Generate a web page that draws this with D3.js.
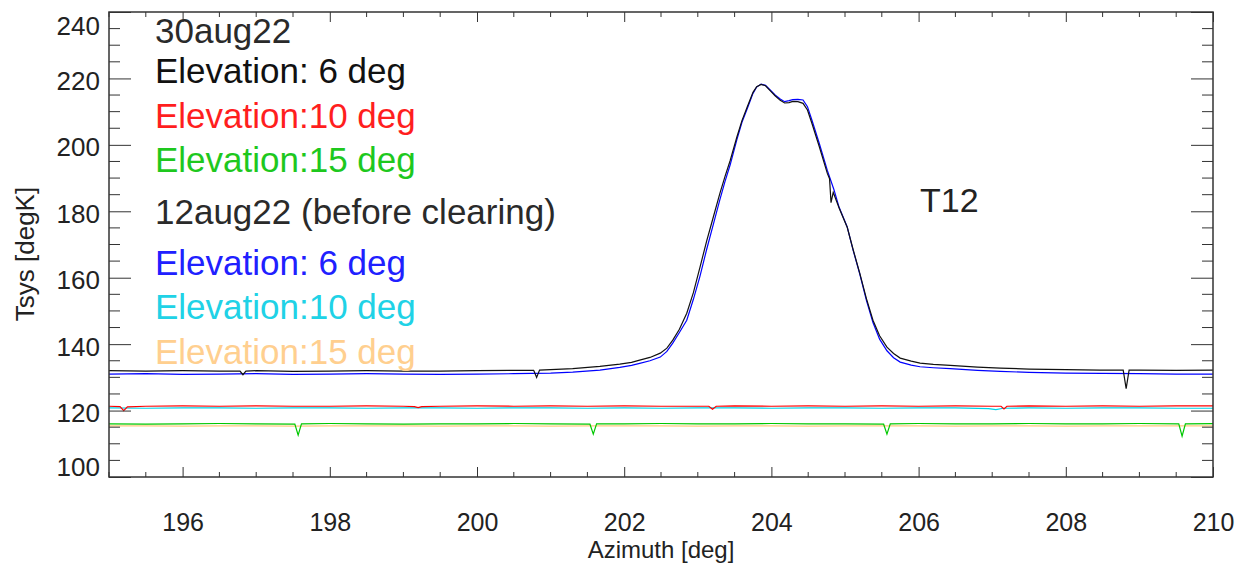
<!DOCTYPE html>
<html>
<head>
<meta charset="utf-8">
<script src="https://cdn.jsdelivr.net/npm/d3@7"></script>
<style>
  body { margin: 0; background: #fff; }
  text { font-family: "Liberation Sans", Arial, sans-serif; }
</style>
</head>
<body>
<div id="chart"></div>
<script>
// 30aug22, elevation 6 deg (black)
const aug30el6Az = [195.0, 195.5, 196.0, 196.5, 196.78, 196.82, 196.86, 197.0, 197.5, 198.0, 198.5, 199.0, 199.5, 200.0, 200.5, 200.77, 200.81, 200.85, 201.0, 201.3, 201.67, 201.94, 202.1, 202.21, 202.35, 202.49, 202.58, 202.66, 202.75, 202.85, 202.94, 203.03, 203.12, 203.21, 203.3, 203.37, 203.44, 203.53, 203.6, 203.67, 203.75, 203.8, 203.86, 203.92, 203.98, 204.05, 204.12, 204.18, 204.24, 204.29, 204.36, 204.43, 204.49, 204.55, 204.65, 204.76, 204.79, 204.81, 204.84, 204.92, 205.03, 205.11, 205.2, 205.29, 205.38, 205.47, 205.57, 205.66, 205.75, 205.9, 206.02, 206.2, 206.43, 206.8, 207.11, 207.5, 208.0, 208.46, 208.78, 208.82, 208.86, 209.0, 209.5, 210.0];
const aug30el6T = [132.0, 131.9, 132.0, 131.9, 131.9, 130.8, 131.9, 132.0, 131.8, 131.9, 132.0, 131.9, 131.9, 132.0, 132.1, 132.1, 130.0, 132.2, 132.3, 132.6, 133.3, 134.0, 134.5, 135.2, 136.0, 137.3, 138.8, 141.2, 144.5, 149.3, 155.5, 163.2, 171.0, 178.2, 185.4, 190.5, 195.3, 202.3, 207.3, 211.3, 215.8, 217.5, 218.2, 217.8, 216.4, 214.8, 213.4, 212.6, 212.7, 213.1, 213.0, 212.5, 210.5, 206.5, 199.5, 191.4, 189.8, 182.6, 185.7, 181.0, 175.2, 168.5, 161.4, 153.8, 147.2, 142.5, 139.1, 137.2, 135.8, 134.9, 134.3, 133.9, 133.6, 133.1, 132.8, 132.5, 132.3, 132.2, 132.2, 126.6, 132.2, 132.2, 132.1, 132.2];

// 30aug22, elevation 10 deg (red)
const aug30el10Az = [195.0, 195.15, 195.2, 195.25, 195.5, 196.0, 196.5, 197.0, 197.5, 198.0, 198.5, 199.0, 199.15, 199.2, 199.25, 199.5, 200.0, 200.5, 201.0, 201.5, 202.0, 202.5, 203.0, 203.15, 203.2, 203.25, 203.5, 204.0, 204.5, 205.0, 205.5, 206.0, 206.5, 207.0, 207.12, 207.16, 207.2, 207.5, 208.0, 208.5, 209.0, 209.5, 210.0];
const aug30el10T = [121.3, 121.2, 120.0, 121.1, 121.3, 121.4, 121.3, 121.4, 121.3, 121.3, 121.4, 121.3, 121.2, 120.9, 121.2, 121.3, 121.4, 121.3, 121.4, 121.3, 121.4, 121.3, 121.3, 121.3, 120.4, 121.3, 121.4, 121.3, 121.4, 121.3, 121.4, 121.3, 121.4, 121.3, 121.3, 120.5, 121.3, 121.4, 121.3, 121.4, 121.3, 121.4, 121.4];

// 30aug22, elevation 15 deg (green)
const aug30el15Az = [195.0, 195.5, 196.0, 196.5, 197.0, 197.525, 197.57, 197.615, 198.0, 198.5, 199.0, 199.5, 200.0, 200.5, 201.0, 201.535, 201.58, 201.625, 202.0, 202.5, 203.0, 203.5, 204.0, 204.5, 205.0, 205.525, 205.57, 205.615, 206.0, 206.5, 207.0, 207.5, 208.0, 208.5, 209.0, 209.535, 209.58, 209.625, 210.0];
const aug30el15T = [116.0, 115.9, 116.0, 116.1, 116.0, 115.9, 112.6, 116.0, 116.1, 116.0, 115.9, 116.0, 116.0, 116.1, 116.0, 115.9, 112.9, 116.0, 116.0, 116.1, 116.0, 116.0, 116.1, 116.0, 116.0, 115.9, 112.9, 116.0, 116.1, 116.0, 116.0, 116.1, 116.0, 116.0, 116.1, 116.0, 112.3, 116.0, 116.1];

// 12aug22, elevation 6 deg (blue)
const aug12el6Az = [195.0, 195.5, 196.0, 196.5, 197.0, 197.5, 198.0, 198.5, 199.0, 199.5, 200.0, 200.5, 201.0, 201.3, 201.67, 201.94, 202.1, 202.21, 202.35, 202.49, 202.58, 202.66, 202.75, 202.85, 202.94, 203.03, 203.12, 203.21, 203.3, 203.37, 203.44, 203.53, 203.6, 203.67, 203.75, 203.8, 203.86, 203.92, 203.98, 204.05, 204.12, 204.18, 204.24, 204.29, 204.36, 204.43, 204.49, 204.55, 204.65, 204.76, 204.85, 204.92, 205.03, 205.11, 205.2, 205.29, 205.38, 205.47, 205.57, 205.66, 205.75, 205.9, 206.02, 206.2, 206.43, 206.8, 207.11, 207.5, 208.0, 208.5, 209.0, 209.5, 210.0];
const aug12el6T = [131.0, 131.1, 130.9, 131.0, 131.1, 130.9, 131.0, 131.1, 131.0, 130.9, 131.0, 131.1, 131.3, 131.6, 132.2, 133.0, 133.6, 134.2, 135.0, 136.1, 137.8, 140.3, 143.5, 147.2, 153.5, 160.5, 168.5, 176.0, 183.5, 189.0, 194.0, 201.5, 206.8, 210.8, 215.5, 217.4, 218.3, 217.9, 216.6, 215.0, 213.8, 213.0, 213.3, 213.6, 213.7, 213.5, 211.5, 207.5, 200.5, 192.3, 186.5, 181.2, 175.3, 168.3, 161.2, 153.3, 146.5, 141.5, 138.0, 135.9, 134.6, 133.7, 133.2, 132.9, 132.6, 132.1, 131.8, 131.5, 131.3, 131.2, 131.1, 131.0, 131.0];

// 12aug22, elevation 10 deg (cyan)
const aug12el10Az = [195.0, 195.5, 196.0, 196.5, 197.0, 197.5, 198.0, 198.5, 199.0, 199.5, 200.0, 200.5, 201.0, 201.5, 202.0, 202.5, 203.0, 203.5, 204.0, 204.5, 205.0, 205.5, 206.0, 206.5, 206.95, 207.05, 207.15, 207.5, 208.0, 208.5, 209.0, 209.5, 210.0];
const aug12el10T = [120.8, 120.7, 120.8, 120.8, 120.7, 120.8, 120.8, 120.7, 120.8, 120.8, 120.7, 120.8, 120.8, 120.7, 120.8, 120.7, 120.8, 120.8, 120.7, 120.8, 120.8, 120.7, 120.8, 120.8, 120.6, 120.3, 120.7, 120.8, 120.7, 120.8, 120.8, 120.7, 120.7];

// 12aug22, elevation 15 deg (light orange)
const aug12el15Az = [195.0, 195.5, 196.0, 196.5, 197.0, 197.5, 198.0, 198.5, 199.0, 199.5, 200.0, 200.5, 201.0, 201.5, 202.0, 202.5, 203.0, 203.5, 204.0, 204.5, 205.0, 205.5, 206.0, 206.5, 207.0, 207.5, 208.0, 208.5, 209.0, 209.5, 210.0];
const aug12el15T = [115.4, 115.4, 115.3, 115.4, 115.4, 115.3, 115.4, 115.4, 115.4, 115.3, 115.4, 115.4, 115.3, 115.4, 115.4, 115.4, 115.3, 115.4, 115.4, 115.3, 115.4, 115.4, 115.4, 115.3, 115.4, 115.4, 115.3, 115.4, 115.4, 115.4, 115.4];

const xTicks = [196, 198, 200, 202, 204, 206, 208, 210];
const yTicks = [100, 120, 140, 160, 180, 200, 220, 240];

const legendLabels = ["30aug22", "Elevation: 6 deg", "Elevation:10 deg", "Elevation:15 deg",
  "12aug22 (before clearing)", "Elevation: 6 deg", "Elevation:10 deg", "Elevation:15 deg"];

// chart setup
const W = 1254, H = 564;
const margin = {top: 12, right: 41, bottom: 87, left: 109},
    width = W - margin.left - margin.right,
    height = H - margin.top - margin.bottom;

const x = d3.scaleLinear().domain([195, 210]).range([0, width]);
const y = d3.scaleLinear().domain([100, 240]).range([height, 0]);

const svg = d3.select('#chart').append('svg')
    .attr('width', W).attr('height', H)
  .append('g')
    .attr('transform', 'translate(' + margin.left + ',' + margin.top + ')');

svg.append('defs').append('clipPath').attr('id', 'clip')
  .append('rect').attr('width', width).attr('height', height);

const series = [
  {az: aug12el15Az, t: aug12el15T, color: '#ffc97f'},
  {az: aug12el10Az, t: aug12el10T, color: '#00d2e6'},
  {az: aug30el15Az, t: aug30el15T, color: '#00c800'},
  {az: aug30el10Az, t: aug30el10T, color: '#ff0000'},
  {az: aug12el6Az, t: aug12el6T, color: '#0000ff'},
  {az: aug30el6Az, t: aug30el6T, color: '#111111'}
];

const line = d3.line()
  .x(d => x(d[0]))
  .y(d => y(d[1]));

const plot = svg.append('g').attr('clip-path', 'url(#clip)');
series.forEach(s => {
  plot.append('path')
    .datum(s.az.map((a, i) => [a, s.t[i]]))
    .attr('fill', 'none')
    .attr('stroke', s.color)
    .attr('stroke-width', 1.2)
    .attr('d', line);
});

// axes with IDL style ticks
const axisColor = '#333';
const xMinor = d3.range(195, 210.01, 0.5).filter(v => v % 2 !== 0);
const yMinor = d3.range(100, 240.01, 5).filter(v => v % 20 !== 0);

function xAxis(g, isTop) {
  g.call(d3.axisBottom(x).tickValues(xTicks).tickSize(isTop ? 10 : -10).tickFormat(isTop ? '' : d3.format('d')).tickPadding(36));
  g.select('.domain').remove();
  g.selectAll('line').attr('stroke', axisColor).attr('y2', isTop ? 10 : -10);
  g.selectAll('text').attr('font-size', 25).attr('fill', '#222');
  g.selectAll('.minor').data(xMinor).enter().append('line')
    .attr('x1', d => x(d)).attr('x2', d => x(d))
    .attr('y1', 0).attr('y2', isTop ? 5 : -5)
    .attr('stroke', axisColor);
}
svg.append('g').attr('transform', 'translate(0,' + height + ')').call(g => xAxis(g, false));
svg.append('g').call(g => xAxis(g, true));

function yAxis(g, isRight) {
  g.call(d3.axisLeft(y).tickValues(yTicks).tickSize(isRight ? 22 : -22).tickFormat(isRight ? '' : d3.format('d')).tickPadding(9));
  g.select('.domain').remove();
  g.selectAll('line').attr('stroke', axisColor).attr('x2', isRight ? -22 : 22);
  g.selectAll('text').attr('font-size', 26).attr('fill', '#222')
    .attr('dy', d => d === 240 ? '0.85em' : (d === 100 ? '-0.05em' : '0.42em'));
  g.selectAll('.minor').data(yMinor).enter().append('line')
    .attr('y1', d => y(d)).attr('y2', d => y(d))
    .attr('x1', 0).attr('x2', isRight ? -11 : 11)
    .attr('stroke', axisColor);
}
svg.append('g').call(g => yAxis(g, false));
svg.append('g').attr('transform', 'translate(' + width + ',0)').call(g => yAxis(g, true));

svg.append('rect')
  .attr('width', width).attr('height', height)
  .attr('fill', 'none').attr('stroke', axisColor).attr('stroke-width', 1.5);

// axis titles
svg.append('text')
  .attr('x', width / 2).attr('y', height + 81)
  .attr('text-anchor', 'middle').attr('font-size', 24).attr('fill', '#222')
  .text('Azimuth [deg]');
svg.append('text')
  .attr('transform', 'translate(' + (34 - margin.left) + ',' + (254 - margin.top) + ') rotate(-90)')
  .attr('text-anchor', 'middle').attr('font-size', 26).attr('fill', '#222')
  .text('Tsys [degK]');

// legend text
const legendColors = ['#2a2a2a', '#111111', '#ff1e1e', '#1ec81e', '#2a2a2a', '#2020ff', '#20d2e6', '#ffcf8f'];
const legendY = [30, 70, 115, 159, 211, 262, 306, 351];
svg.selectAll('.leg').data(legendLabels).enter().append('text')
  .attr('x', 155 - margin.left)
  .attr('y', (d, i) => legendY[i] - margin.top)
  .attr('dy', '0.36em')
  .attr('font-size', 35)
  .attr('fill', (d, i) => legendColors[i])
  .text(d => d);

svg.append('text')
  .attr('x', 920 - margin.left).attr('y', 200 - margin.top)
  .attr('dy', '0.36em').attr('font-size', 34).attr('fill', '#222')
  .text('T12');
</script>
</body>
</html>
